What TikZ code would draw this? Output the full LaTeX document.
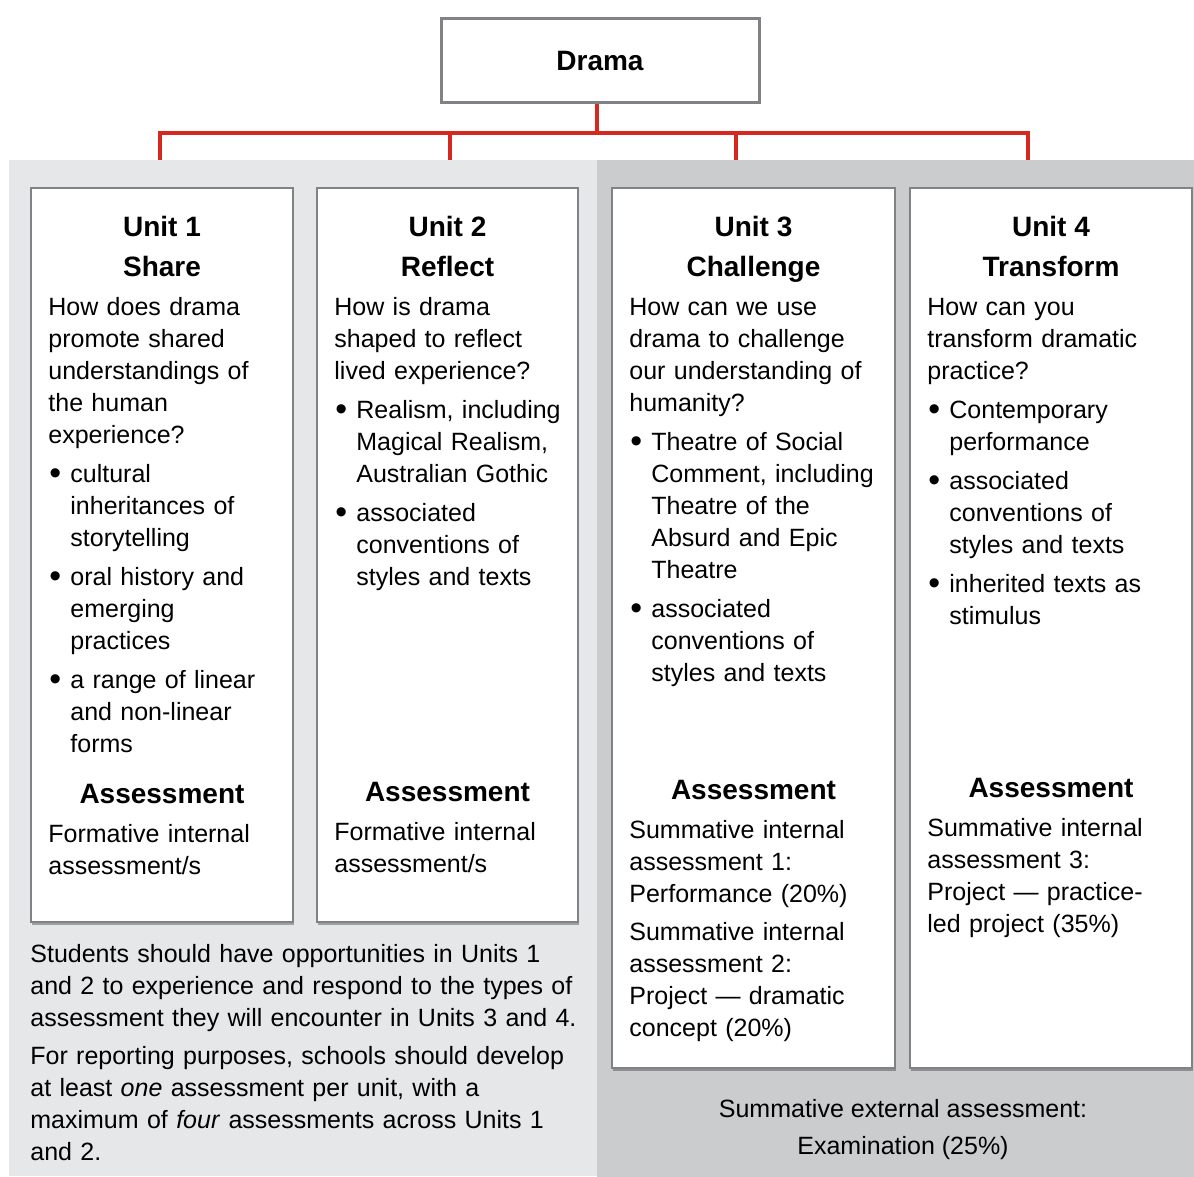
\documentclass[tikz,border=0pt]{standalone}
\usepackage{fontspec}
\setmainfont{Liberation Sans}
\usepackage{enumitem}
\usetikzlibrary{positioning,shadows}

\definecolor{dramared}{RGB}{214,40,30}
\definecolor{framegrey}{RGB}{128,130,133}
\definecolor{leftpanel}{RGB}{230,231,232}
\definecolor{rightpanel}{RGB}{203,204,206}

\setlength{\parindent}{0pt}
\newcommand{\bodysize}{\fontsize{12.5}{16}\selectfont}
\newcommand{\headsize}{\fontsize{14}{20}\selectfont\bfseries}
\newcommand{\bigbullet}{\hspace{.5pt}\raisebox{-1pt}{\scalebox{1.35}{\textbullet}}}
\setlist[itemize]{label=\bigbullet,align=left,leftmargin=11pt,labelwidth=11pt,
  labelsep=0pt,itemsep=3.5pt,topsep=3.5pt,partopsep=0pt,parsep=0pt}

\tikzset{
  unitbox/.style={draw=framegrey,line width=1pt,fill=white,outer sep=0pt,
    drop shadow={shadow xshift=.5pt,shadow yshift=-1.5pt,fill=black,opacity=.3}},
  unithead/.style={anchor=north,align=center,inner sep=0pt,font=\headsize},
  assesshead/.style={anchor=base,inner sep=0pt,font=\headsize},
  unittext/.style={anchor=north west,align=left,inner sep=0pt,font=\bodysize,text width=#1},
  unittext/.default=130pt,
  redline/.style={draw=dramared,line width=1.6pt}
}

\begin{document}
\begin{tikzpicture}[x=0.5pt,y=-0.5pt]
    \useasboundingbox (0,0) rectangle (1194,1177);
    % panels behind the units
    \fill[leftpanel] (9,160) rectangle (597,1176);
    \fill[rightpanel] (597,160) rectangle (1194,1177);

    \node[draw=framegrey,line width=1.5pt,fill=white,minimum width=159pt,minimum height=42pt,
          font=\headsize](drama) at (600,61) {Drama};

    % red tree
    \coordinate (bus) at (0,133);
    \foreach \x/\n in {160/1,450/2,736/3,1028/4}{
      \coordinate (drop\n) at (\x,160);
      \draw[redline] ([xshift=-1.5pt]drama.south) -- ([xshift=-1.5pt]drama.south |- bus) -| (drop\n);
    }

    % unit boxes
    \node[unitbox,minimum width=131pt,minimum height=367pt](u1) at (162,555) {};
    \node[unitbox,minimum width=130.5pt,minimum height=367pt](u2) at (447.5,555) {};
    \node[unitbox,minimum width=141.5pt,minimum height=440pt](u3) at (753.5,628) {};
    \node[unitbox,minimum width=141pt,minimum height=440pt](u4) at (1051,628) {};

    \node[unithead,below=10pt of u1.north](h1){\strut Unit 1\\Share};
    \node[unithead,below=10pt of u2.north](h2){\strut Unit 2\\Reflect};
    \node[unithead,below=10pt of u3.north](h3){\strut Unit 3\\Challenge};
    \node[unithead,below=10pt of u4.north](h4){\strut Unit 4\\Transform};

    % unit 1
    \node[unittext](t1) at (48,292.6){\strut How does drama\\promote shared\\understandings of\\the human\\experience?
      \begin{itemize}
        \item cultural\\inheritances of\\storytelling
        \item oral history and\\emerging\\practices
        \item a range of linear\\and non-linear\\forms
      \end{itemize}};
    \node[assesshead](a1) at (162,803){Assessment};
    \node[unittext](f1) at (48,819.6){\strut Formative internal\\assessment/s};

    % unit 2
    \node[unittext](t2) at (334,292.6){\strut How is drama\\shaped to reflect\\lived experience?
      \begin{itemize}
        \item Realism, including\\Magical Realism,\\Australian Gothic
        \item associated\\conventions of\\styles and texts
      \end{itemize}};
    \node[assesshead](a2) at (447.5,801){Assessment};
    \node[unittext](f2) at (334,817.6){\strut Formative internal\\assessment/s};

    % unit 3
    \node[unittext=140pt](t3) at (629,292.6){\strut How can we use\\drama to challenge\\our understanding of\\humanity?
      \begin{itemize}
        \item Theatre of Social\\Comment, including\\Theatre of the\\Absurd and Epic\\Theatre
        \item associated\\conventions of\\styles and texts
      \end{itemize}};
    \node[assesshead](a3) at (753.5,799){Assessment};
    \node[unittext=140pt](f3) at (629,815.6){\strut Summative internal\\assessment 1:\\Performance (20\%)\par\vspace{3pt}
      Summative internal\\assessment 2:\\Project — dramatic\\concept (20\%)};

    % unit 4
    \node[unittext=140pt](t4) at (927,292.6){\strut How can you\\transform dramatic\\practice?
      \begin{itemize}
        \item Contemporary\\performance
        \item associated\\conventions of\\styles and texts
        \item inherited texts as\\stimulus
      \end{itemize}};
    \node[assesshead](a4) at (1051,797){Assessment};
    \node[unittext=140pt](f4) at (927,813.6){\strut Summative internal\\assessment 3:\\Project — practice-\\led project (35\%)};

    % notes under the boxes
    \node[unittext=290pt](note) at (30,939.6){\strut Students should have opportunities in Units 1\\and 2 to experience and respond to the types of\\assessment they will encounter in Units 3 and 4.\par\vspace{3pt}
      For reporting purposes, schools should develop\\at least \emph{one} assessment per unit, with a\\maximum of \emph{four} assessments across Units 1\\and 2.};
    \node[anchor=north,align=center,inner sep=0pt,font=\fontsize{12.5}{18.5}\selectfont](exam) at (903,1091)
      {\strut Summative external assessment:\\Examination (25\%)};
\end{tikzpicture}
\end{document}
